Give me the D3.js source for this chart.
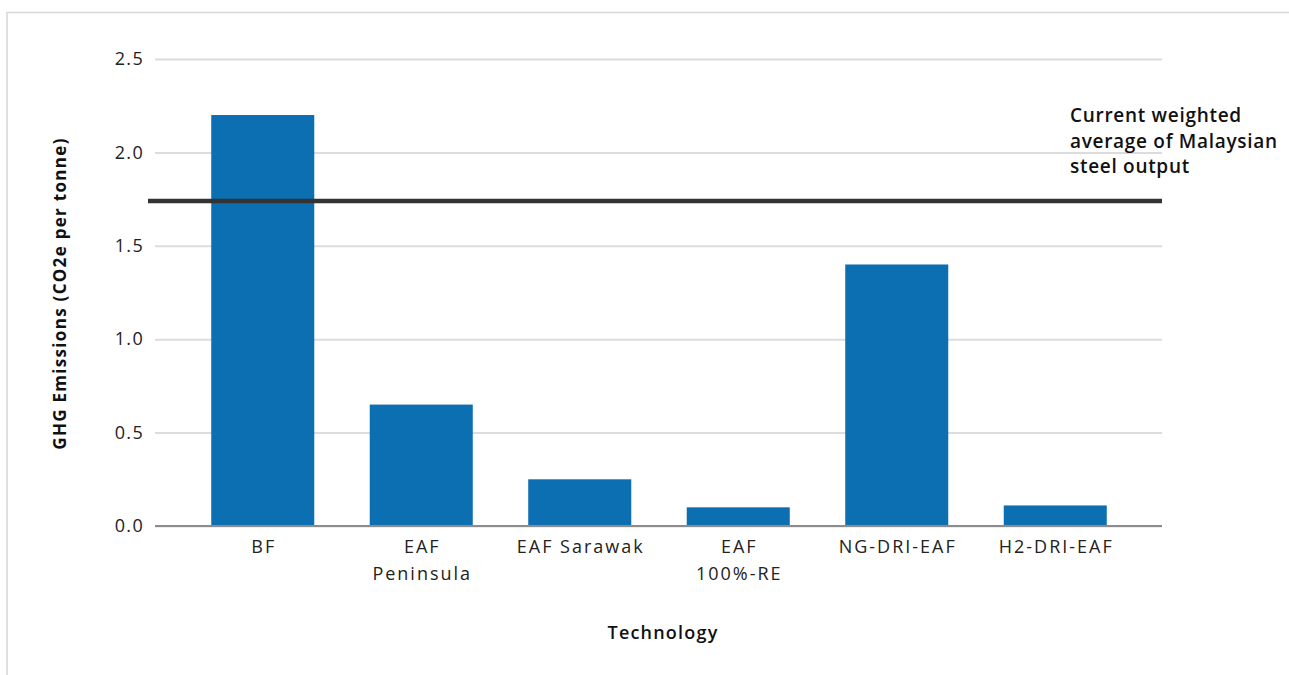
<!DOCTYPE html>
<html>
<head>
<meta charset="utf-8">
<script src="https://cdn.jsdelivr.net/npm/d3@7"></script>
<style>
  html, body { margin: 0; padding: 0; background: #fff; }
  svg { display: block; }
  text { font-family: "Open Sans", "Noto Sans", sans-serif; }
</style>
</head>
<body>
<svg id="chart" width="1289" height="675"></svg>
<script>
// Emissions intensity by steelmaking technology
const categories = ["BF", "EAF\nPeninsula", "EAF Sarawak", "EAF\n100%-RE", "NG-DRI-EAF", "H2-DRI-EAF"];
const emissions = [2.2, 0.65, 0.25, 0.1, 1.4, 0.11];
const yTicks = [0, 0.5, 1.0, 1.5, 2.0, 2.5];
const averageValue = 1.74;
const averageLabel = ["Current weighted", "average of Malaysian", "steel output"];
const yTitle = "GHG Emissions (CO2e per tonne)";
const xTitle = "Technology";

const svg = d3.select("#chart");

// light panel frame
svg.append("path")
  .attr("d", "M7,675 L7,12.5 L1289,12.5")
  .attr("fill", "none")
  .attr("stroke", "#d6d6d6")
  .attr("stroke-width", 1.5);

const plotLeft = 155, plotRight = 1162;
const y = d3.scaleLinear().domain([0, 2.5]).range([526, 59]);
const x = d3.scaleBand()
  .domain(categories)
  .range([183.5, 1134.5])
  .paddingInner(0.35)
  .paddingOuter(0.175);

// gridlines + tick labels
const yAxis = d3.axisLeft(y)
  .tickValues(yTicks)
  .tickFormat(d3.format(".1f"))
  .tickSize(-(plotRight - plotLeft))
  .tickPadding(12);

const gy = svg.append("g")
  .attr("transform", `translate(${plotLeft},0)`)
  .call(yAxis);
gy.select(".domain").remove();
gy.selectAll(".tick line")
  .attr("stroke", "#dcdcdc")
  .attr("stroke-width", 2);
gy.selectAll(".tick text")
  .attr("fill", "#222")
  .attr("font-size", 18)
  .attr("font-weight", 500)
  .attr("letter-spacing", 1.3)
  .attr("x", -11);

// bars
svg.append("g").selectAll("rect")
  .data(categories)
  .join("rect")
  .attr("x", d => x(d))
  .attr("width", x.bandwidth())
  .attr("y", (d, i) => y(emissions[i]))
  .attr("height", (d, i) => y(0) - y(emissions[i]))
  .attr("fill", "#0b6fb1");

// baseline
svg.append("line")
  .attr("x1", plotLeft).attr("x2", plotRight)
  .attr("y1", y(0)).attr("y2", y(0))
  .attr("stroke", "#8c8c8c")
  .attr("stroke-width", 2);

// category labels (dx offsets the trailing letter-spacing so text stays centred)
const xl = svg.append("g").selectAll("text")
  .data(categories)
  .join("text")
  .attr("x", d => x(d) + x.bandwidth() / 2 + 1)
  .attr("y", 553)
  .attr("text-anchor", "middle")
  .attr("font-size", 18)
  .attr("font-weight", 500)
  .attr("letter-spacing", 2)
  .attr("fill", "#222");
xl.selectAll("tspan")
  .data(d => d.split("\n"))
  .join("tspan")
  .attr("x", function () { return this.parentNode.getAttribute("x"); })
  .attr("dy", (d, i) => i === 0 ? 0 : 27)
  .text(d => d);

// weighted average reference line
svg.append("line")
  .attr("x1", 148).attr("x2", plotRight)
  .attr("y1", y(averageValue)).attr("y2", y(averageValue))
  .attr("stroke", "#333")
  .attr("stroke-width", 4.5);

svg.append("text")
  .attr("x", 1070)
  .attr("y", 122)
  .attr("font-size", 19)
  .attr("font-weight", 600)
  .attr("letter-spacing", 0.7)
  .attr("fill", "#111")
  .selectAll("tspan")
  .data(averageLabel)
  .join("tspan")
  .attr("x", 1070)
  .attr("dy", (d, i) => i === 0 ? 0 : 25.5)
  .text(d => d);

// axis titles
svg.append("text")
  .attr("transform", `translate(66,${(59 + 526) / 2 + 1}) rotate(-90)`)
  .attr("text-anchor", "middle")
  .attr("font-size", 17)
  .attr("font-weight", 700)
  .attr("letter-spacing", 1.3)
  .attr("fill", "#111")
  .text(yTitle);

svg.append("text")
  .attr("x", 663)
  .attr("y", 639)
  .attr("text-anchor", "middle")
  .attr("font-size", 18)
  .attr("font-weight", 600)
  .attr("letter-spacing", 1.2)
  .attr("fill", "#111")
  .text(xTitle);
</script>
</body>
</html>
